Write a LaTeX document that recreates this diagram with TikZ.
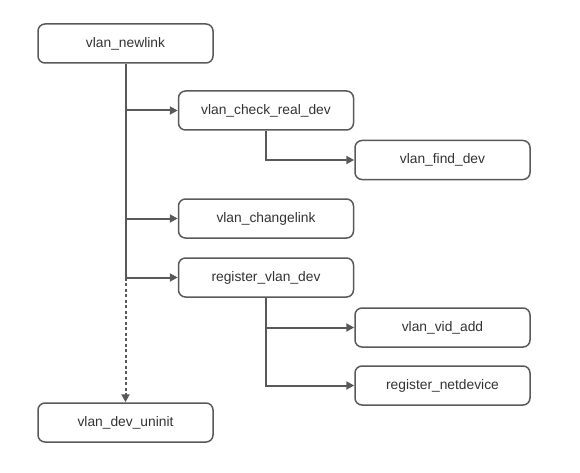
\documentclass[tikz,border=0pt]{standalone}
\usepackage{fontspec}
\setmainfont{Liberation Sans}
\usepackage{xcolor}
\usetikzlibrary{arrows.meta, positioning, calc}
\definecolor{linegray}{HTML}{595959}
\definecolor{textgray}{HTML}{333333}

\begin{document}
\begin{tikzpicture}[x=1pt, y=-1pt,
  fn/.style={draw=linegray, line width=1.5pt, rounded corners=7pt, minimum width=175pt, minimum height=39pt, inner sep=0pt, font=\fontsize{13.8}{16}\selectfont, text=textgray},
  call/.style={draw=linegray, line width=2pt, -{Triangle[length=8pt,width=8pt]}}]
  \useasboundingbox (0,0) rectangle (580,473);
  % fonctions
  \node[fn] (newlink)  at (125.5,43.5)  {vlan\_newlink};
  \node[fn] (check)    at (266,110.5)   {vlan\_check\_real\_dev};
  \node[fn] (find)     at (442.5,160)   {vlan\_find\_dev};
  \node[fn] (change)   at (266,218.5)   {vlan\_changelink};
  \node[fn] (register) at (266,277.5)   {register\_vlan\_dev};
  \node[fn] (vidadd)   at (442.5,327.5) {vlan\_vid\_add};
  \node[fn] (netdev)   at (442.5,385.5) {register\_netdevice};
  \node[fn] (uninit)   at (125.5,422.5) {vlan\_dev\_uninit};
  % tronc principal
  \draw[call, -] (newlink.south) -- (newlink.south |- register.west);
  \foreach \n in {check, change, register}{
    \draw[call] (newlink.south |- \n.west) -- (\n.west);
  }
  % appel en pointillés
  \draw[call, dash pattern=on 3pt off 2.5pt] (newlink.south |- register.west) -- (uninit.north);
  % sous-appels
  \draw[call] (check.south) |- (find.west);
  \foreach \n in {vidadd, netdev}{
    \draw[call] (register.south) |- (\n.west);
  }
\end{tikzpicture}
\end{document}
